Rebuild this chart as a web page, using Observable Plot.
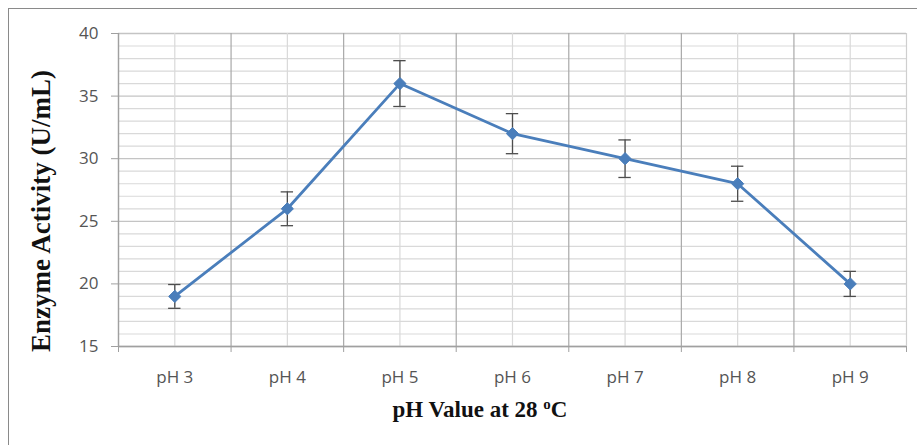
<!DOCTYPE html>
<html>
<head>
<meta charset="utf-8">
<script src="https://cdn.jsdelivr.net/npm/d3@7"></script>
<script src="https://cdn.jsdelivr.net/npm/@observablehq/plot@0.6"></script>
<style>
  html, body { margin: 0; padding: 0; background: #fff; }
  #wrap { position: relative; width: 917px; height: 445px; overflow: hidden; }
  #frame { position: absolute; left: 8px; top: 8px; width: 920px; height: 450px;
           border-left: 1.5px solid #8a8a8a; border-top: 1.5px solid #8a8a8a; box-sizing: border-box; }
  #chart { position: absolute; left: 0; top: 0; }
</style>
</head>
<body>
<div id="wrap"><div id="frame"></div><div id="chart"></div></div>
<script>
const categories = ["pH 3", "pH 4", "pH 5", "pH 6", "pH 7", "pH 8", "pH 9"];
const activity = [19, 26, 36, 32, 30, 28, 20];
const errorSize = [0.95, 1.35, 1.83, 1.6, 1.5, 1.4, 1.0];
const yTicks = [15, 20, 25, 30, 35, 40];
const yDomain = [15, 40];
const yTitle = "Enzyme Activity (U/mL)";
const xTitleMain = "pH Value at 28 ";
const xTitleSup = "o";
const xTitleEnd = "C";

const data = categories.map((c, i) => ({i, c, v: activity[i], lo: activity[i] - errorSize[i], hi: activity[i] + errorSize[i]}));
const idx = categories.map((_, i) => i);
const bounds = d3.range(categories.length + 1).map(k => k - 0.5);
const minorY = d3.range(yDomain[0], yDomain[1] + 1, 1);
const capHalf = 0.055;

const lineColor = "#4a7ebb";
const tickFont = "'Open Sans', 'Liberation Sans', sans-serif";

const plot = Plot.plot({
  width: 917,
  height: 445,
  marginLeft: 118,
  marginRight: 11,
  marginTop: 33,
  marginBottom: 99,
  style: {fontFamily: tickFont, fontSize: "17px", color: "#555555", background: "transparent", overflow: "visible"},
  x: {type: "linear", domain: [-0.5, categories.length - 0.5]},
  y: {domain: yDomain},
  marks: [
    Plot.ruleY(minorY.filter(v => v % 5 !== 0), {stroke: "#d9d9d9", strokeWidth: 1.2}),
    Plot.ruleY(yTicks, {stroke: "#c4c4c4", strokeWidth: 1.3}),
    Plot.ruleX(idx, {stroke: "#d9d9d9", strokeWidth: 1.2}),
    Plot.ruleX(bounds.slice(0, -1), {stroke: "#a9a9a9", strokeWidth: 1.2}),
    Plot.ruleX(bounds.slice(-1), {stroke: "#cfcfcf", strokeWidth: 1.2}),
    Plot.axisY({ticks: yTicks, tickSize: 7, tickPadding: 13, tickFormat: d => d, stroke: "#a0a0a0", label: null, fontSize: 17}),
    Plot.ruleX([-0.5], {stroke: "#a0a0a0", strokeWidth: 1.3}),
    Plot.ruleY([yDomain[0]], {stroke: "#a0a0a0", strokeWidth: 1.3}),
    Plot.axisX({ticks: bounds, tickSize: 6, tickFormat: () => "", stroke: "#a0a0a0", label: null}),
    Plot.axisX({ticks: idx, tickSize: 0, tickPadding: 24, tickFormat: i => categories[i], label: null, fontSize: 17}),
    Plot.ruleX(data, {x: "i", y1: "lo", y2: "hi", stroke: "#4d4d4d", strokeWidth: 1.3}),
    Plot.ruleY(data, {y: "hi", x1: d => d.i - capHalf, x2: d => d.i + capHalf, stroke: "#4d4d4d", strokeWidth: 1.3}),
    Plot.ruleY(data, {y: "lo", x1: d => d.i - capHalf, x2: d => d.i + capHalf, stroke: "#4d4d4d", strokeWidth: 1.3}),
    Plot.line(data, {x: "i", y: "v", stroke: lineColor, strokeWidth: 2.8}),
    Plot.dot(data, {x: "i", y: "v", symbol: "diamond2", r: 5.5, fill: lineColor, stroke: lineColor, strokeWidth: 1})
  ]
});

const svg = d3.select(plot);
svg.append("text")
  .attr("transform", "translate(50,211) rotate(-90)")
  .attr("text-anchor", "middle")
  .attr("font-family", "'Liberation Serif', 'Times New Roman', serif")
  .attr("font-weight", "bold")
  .attr("font-size", 27)
  .attr("fill", "#111")
  .text(yTitle);
const xt = svg.append("text")
  .attr("x", 480).attr("y", 417)
  .attr("text-anchor", "middle")
  .attr("font-family", "'Liberation Serif', 'Times New Roman', serif")
  .attr("font-weight", "bold")
  .attr("font-size", 23)
  .attr("fill", "#111");
xt.append("tspan").text(xTitleMain);
xt.append("tspan").attr("dy", -8).attr("font-size", 15).text(xTitleSup);
xt.append("tspan").attr("dy", 8).text(xTitleEnd);

document.getElementById("chart").appendChild(plot);
</script>
</body>
</html>
